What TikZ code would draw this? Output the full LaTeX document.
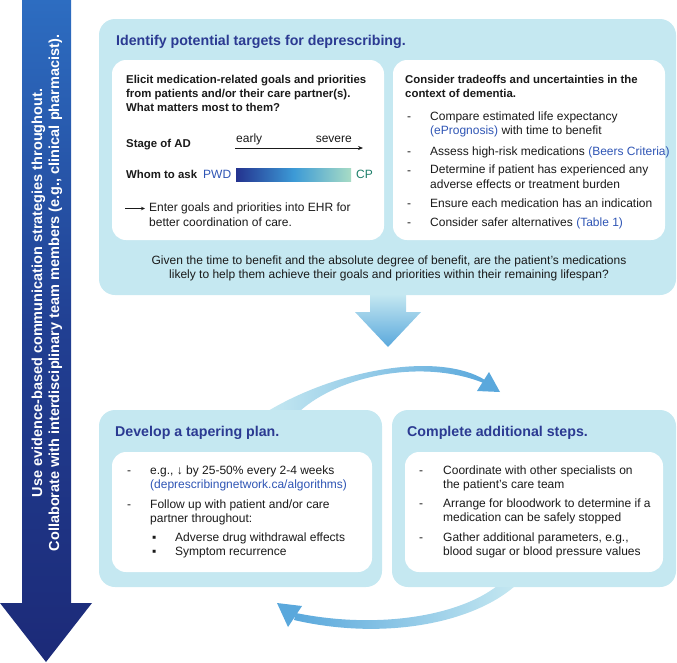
\documentclass[tikz,border=0pt]{standalone}
\usepackage{fontspec}
\setmainfont{Liberation Sans}
\usetikzlibrary{positioning,calc,arrows.meta}

\definecolor{boxblue}{HTML}{C5E8F1}
\definecolor{titleblue}{HTML}{2B3A92}
\definecolor{linkblue}{HTML}{2F55B5}
\definecolor{pwdblue}{HTML}{24338F}
\definecolor{barmid}{HTML}{3C9AD6}
\definecolor{barend}{HTML}{A8DCC5}
\definecolor{cpgreen}{HTML}{1D7F6A}
\definecolor{sidetop}{HTML}{2D6DC1}
\definecolor{sidemid}{HTML}{213F92}
\definecolor{sidebot}{HTML}{1C2A78}
\definecolor{flowblue}{HTML}{5AA8DC}
\definecolor{ink}{HTML}{1A1A1A}

\newcommand{\link}[1]{\textcolor{linkblue}{#1}}

\tikzset{
  panel/.style={anchor=north west, fill=boxblue, rounded corners=16pt, inner sep=0pt, outer sep=0pt},
  card/.style={panel, fill=white, rounded corners=14pt},
  txt/.style={anchor=base west, inner sep=0pt, align=left, text=ink, font=\fontsize{12}{14.5}\selectfont},
  lead/.style={txt, font=\fontsize{11.4}{14}\selectfont\bfseries},
  heading/.style={txt, text=titleblue, font=\fontsize{14.2}{17}\selectfont\bfseries},
  sidetext/.style={rotate=90, align=center, inner sep=0pt, text=white, font=\fontsize{14.5}{17}\selectfont\bfseries},
  thinarrow/.style={-{Stealth[length=5pt,width=4pt]}, line width=0.7pt, draw=ink},
}

\begin{document}
\begin{tikzpicture}[x=1pt,y=-1pt]
\useasboundingbox (0,0) rectangle (677,662);

% side arrow
\shade[top color=sidetop, bottom color=sidebot, middle color=sidemid]
  (22,0) -- (71,0) -- (71,603) -- (92,603) -- (46,662) -- (0,603) -- (22,603) -- cycle;
\node[sidetext] (side) at (47,293) {Use evidence-based communication strategies throughout.\\Collaborate with interdisciplinary team members (e.g., clinical pharmacist).};

% cycle arrows between the lower panels
\shade[left color=boxblue, right color=flowblue]
  (268,411) .. controls (340,368) and (440,352) .. (485,380)
  -- (486,384) .. controls (425,358) and (340,375) .. (300,411) -- cycle;
\fill[flowblue] (500,392) -- (477,391) -- (489,372) -- cycle;
\shade[left color=flowblue, right color=boxblue]
  (515,586) .. controls (470,625) and (380,640) .. (294,620)
  -- (296,613) .. controls (380,630) and (460,615) .. (497,586) -- cycle;
\fill[flowblue] (277,603) -- (302,606) -- (288,627) -- cycle;

% top panel
\node[panel, minimum width=577pt, minimum height=276pt] (identify) at (99,19) {};
\node[heading] (identify-title) at (116,45) {Identify potential targets for deprescribing.};
\node[card, minimum width=272pt, minimum height=180pt] (goals) at (112,60) {};
\node[card, minimum width=272pt, minimum height=180pt] (tradeoffs) at (393,60) {};

% goals card
\node[lead] (goals-text) at (126,111) {Elicit medication-related goals and priorities\\from patients and/or their care partner(s).\\What matters most to them?};
\node[lead] (stage) at (126,147) {Stage of AD};
\node[txt] (early) at (236,142) {early};
\node[txt, anchor=base east] (severe) at (352,142) {severe};
\coordinate (stage-from) at (235,148);
\coordinate (stage-to) at (363,148);
\draw[thinarrow] (stage-from) -- (stage-to);
\node[lead] (whom) at (126,178) {Whom to ask};
\node[txt, text=linkblue] (pwd) at (203,178) {PWD};
\node[anchor=north west, inner sep=0pt, minimum width=115pt, minimum height=13pt,
      left color=pwdblue, right color=barend, middle color=barmid] (whombar) at (236,168) {};
\node[txt, text=cpgreen] (cp) at (356,178) {CP};
\coordinate (ehr-from) at (125,208.5);
\coordinate (ehr-to) at (145,208.5);
\draw[thinarrow, -{Stealth[length=4pt,width=3.5pt]}] (ehr-from) -- (ehr-to);
\node[txt] (ehr) at (149,226) {Enter goals and priorities into EHR for\\better coordination of care.};

% tradeoffs card
\node[lead] (tradeoffs-text) at (405,97) {Consider tradeoffs and uncertainties in the\\context of dementia.};
\foreach \y in {120,155,174,207,226}
  \node[txt] (dash-\y) at (407,\y) {-};
\node[txt] (compare) at (430,134.5) {Compare estimated life expectancy\\\link{(ePrognosis)} with time to benefit};
\node[txt] (assess) at (430,155) {Assess high-risk medications \link{(Beers Criteria)}};
\node[txt] (determine) at (430,188) {Determine if patient has experienced any\\adverse effects or treatment burden};
\node[txt] (ensure) at (430,207) {Ensure each medication has an indication};
\node[txt] (safer) at (430,226) {Consider safer alternatives \link{(Table 1)}};

\node[txt, anchor=base, align=center] (question) at (389,278.5) {Given the time to benefit and the absolute degree of benefit, are the patient’s medications\\likely to help them achieve their goals and priorities within their remaining lifespan?};

% flow arrow down
\shade[top color=boxblue, bottom color=flowblue]
  (370,294) -- (406,294) -- (406,312) -- (421,312) -- (388,347) -- (355,312) -- (370,312) -- cycle;

% lower panels
\node[panel, minimum width=283pt, minimum height=177pt] (taper) at (99,410) {};
\node[heading] (taper-title) at (115,436) {Develop a tapering plan.};
\node[card, minimum width=260pt, minimum height=120pt] (taper-card) at (112,452) {};
\node[txt] (taper-dash1) at (127,474) {-};
\node[txt] (taper-dash2) at (127,508) {-};
\node[txt] (taper1) at (150,488.5) {e.g., ↓ by 25-50\% every 2-4 weeks\\\link{(deprescribingnetwork.ca/algorithms)}};
\node[txt] (taper2) at (150,522.5) {Follow up with patient and/or care\\partner throughout:};
\node[txt] (sq1) at (152,541) {▪};
\node[txt] (sq2) at (152,555) {▪};
\node[txt] (taper3) at (175,541) {Adverse drug withdrawal effects};
\node[txt] (taper4) at (175,555) {Symptom recurrence};

\node[panel, minimum width=284pt, minimum height=177pt] (steps) at (392,410) {};
\node[heading] (steps-title) at (407,436) {Complete additional steps.};
\node[card, minimum width=258pt, minimum height=120pt] (steps-card) at (405,452) {};
\foreach \y in {474,507,541}
  \node[txt] (steps-dash-\y) at (419,\y) {-};
\node[txt] (steps1) at (443,488.5) {Coordinate with other specialists on\\the patient’s care team};
\node[txt] (steps2) at (443,521.5) {Arrange for bloodwork to determine if a\\medication can be safely stopped};
\node[txt] (steps3) at (443,555.5) {Gather additional parameters, e.g.,\\blood sugar or blood pressure values};

\end{tikzpicture}
\end{document}
